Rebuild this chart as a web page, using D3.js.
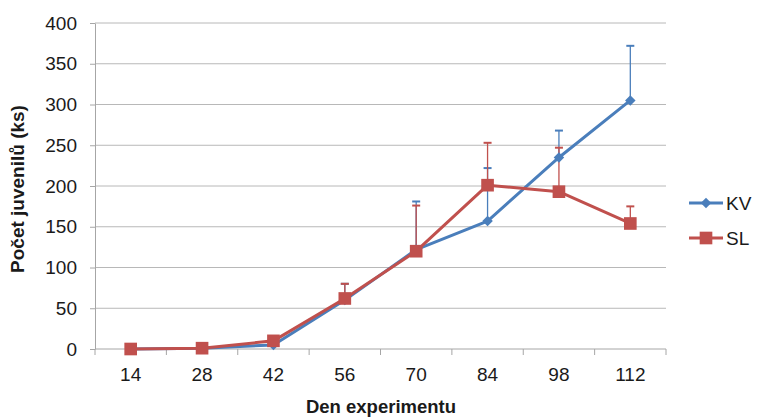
<!DOCTYPE html>
<html>
<head>
<meta charset="utf-8">
<script src="https://cdn.jsdelivr.net/npm/d3@7"></script>
<style>
  html, body { margin: 0; padding: 0; background: #fff; }
  svg { display: block; font-family: "Liberation Sans", Arial, sans-serif; }
</style>
</head>
<body>
<svg id="chart" width="758" height="419"></svg>
<script>
// Days of the experiment (categories)
const days = ["14", "28", "42", "56", "70", "84", "98", "112"];
// Mean number of juveniles per group
const kvValues = [0, 1, 5, 60, 122, 157, 235, 305];
const slValues = [0, 1, 10, 62, 120, 201, 193, 154];
// Upper end of the error bars
const kvUpper = [0, 1, 5, 80, 181, 222, 268, 372];
const slUpper = [0, 1, 10, 80, 176, 253, 247, 175];
const yTicks = [0, 50, 100, 150, 200, 250, 300, 350, 400];

const series = [
  { name: "KV", values: kvValues, upper: kvUpper, color: "#4a7ebb", marker: "diamond" },
  { name: "SL", values: slValues, upper: slUpper, color: "#c0504d", marker: "square" }
];

const svg = d3.select("#chart");
const plot = { left: 95, right: 666, top: 23, bottom: 349 };
const textColor = "#1a1a1a";

const x = d3.scaleBand().domain(days).range([plot.left, plot.right]);
const y = d3.scaleLinear().domain([0, 400]).range([plot.bottom, plot.top]);
const cx = d => x(d) + x.bandwidth() / 2;

// Horizontal gridlines
svg.append("g").selectAll("line").data(yTicks.filter(t => t > 0)).join("line")
  .attr("x1", plot.left).attr("x2", plot.right)
  .attr("y1", d => y(d)).attr("y2", d => y(d))
  .attr("stroke", "#b8b8b8").attr("stroke-width", 1);

// Y axis
const yAxis = svg.append("g").attr("transform", `translate(${plot.left},0)`)
  .call(d3.axisLeft(y).tickValues(yTicks).tickSize(5).tickPadding(13).tickSizeOuter(0));
yAxis.select(".domain").attr("stroke", "#a6a6a6");
yAxis.selectAll(".tick line").attr("stroke", "#a6a6a6");
yAxis.selectAll(".tick text").attr("font-size", 19).attr("fill", textColor)
  .attr("font-family", "Liberation Sans, Arial, sans-serif");

// X axis: ticks sit on category boundaries
const xAxis = svg.append("g").attr("transform", `translate(0,${plot.bottom})`);
xAxis.append("line").attr("x1", plot.left).attr("x2", plot.right)
  .attr("stroke", "#a6a6a6");
const boundaries = days.map(d => x(d)).concat([plot.right]);
xAxis.selectAll("line.tick").data(boundaries).join("line").attr("class", "tick")
  .attr("x1", d => d).attr("x2", d => d).attr("y1", 0).attr("y2", 6)
  .attr("stroke", "#a6a6a6");
xAxis.selectAll("text").data(days).join("text")
  .attr("x", d => cx(d)).attr("y", 32)
  .attr("text-anchor", "middle").attr("font-size", 19).attr("fill", textColor)
  .text(d => d);

// Error bars (upper only)
series.forEach(s => {
  const g = svg.append("g");
  days.forEach((d, i) => {
    if (s.upper[i] <= s.values[i]) return;
    g.append("line")
      .attr("x1", cx(d)).attr("x2", cx(d))
      .attr("y1", y(s.values[i])).attr("y2", y(s.upper[i]))
      .attr("stroke", s.color).attr("stroke-width", 1.3);
    g.append("line")
      .attr("x1", cx(d) - 4).attr("x2", cx(d) + 4)
      .attr("y1", y(s.upper[i])).attr("y2", y(s.upper[i]))
      .attr("stroke", s.color).attr("stroke-width", 2);
  });
});

// Lines and markers
const line = d3.line().x((v, i) => cx(days[i])).y(v => y(v));
const diamond = d3.symbol().type(d3.symbolDiamond2).size(70);
const square = d3.symbol().type(d3.symbolSquare).size(160);

series.forEach(s => {
  svg.append("path").datum(s.values)
    .attr("d", line).attr("fill", "none")
    .attr("stroke", s.color).attr("stroke-width", 3).attr("stroke-linejoin", "round");
  svg.append("g").selectAll("path").data(s.values).join("path")
    .attr("transform", (v, i) => `translate(${cx(days[i])},${y(v)})`)
    .attr("d", s.marker === "diamond" ? diamond : square)
    .attr("fill", s.color);
});

// Legend
const legend = svg.append("g");
series.forEach((s, i) => {
  const ly = 203 + i * 35;
  legend.append("line").attr("x1", 689).attr("x2", 723).attr("y1", ly).attr("y2", ly)
    .attr("stroke", s.color).attr("stroke-width", 3);
  legend.append("path").attr("transform", `translate(706,${ly})`)
    .attr("d", s.marker === "diamond" ? diamond : square).attr("fill", s.color);
  legend.append("text").attr("x", 726).attr("y", ly + 7)
    .attr("font-size", 19).attr("fill", textColor).text(s.name);
});

// Axis titles
svg.append("text").attr("x", 381).attr("y", 413)
  .attr("text-anchor", "middle").attr("font-size", 18.5).attr("font-weight", "bold")
  .attr("fill", textColor).text("Den experimentu");
svg.append("text").attr("transform", "translate(24,189) rotate(-90)")
  .attr("text-anchor", "middle").attr("font-size", 19).attr("font-weight", "bold")
  .attr("fill", textColor).text("Počet juvenilů (ks)");
</script>
</body>
</html>
